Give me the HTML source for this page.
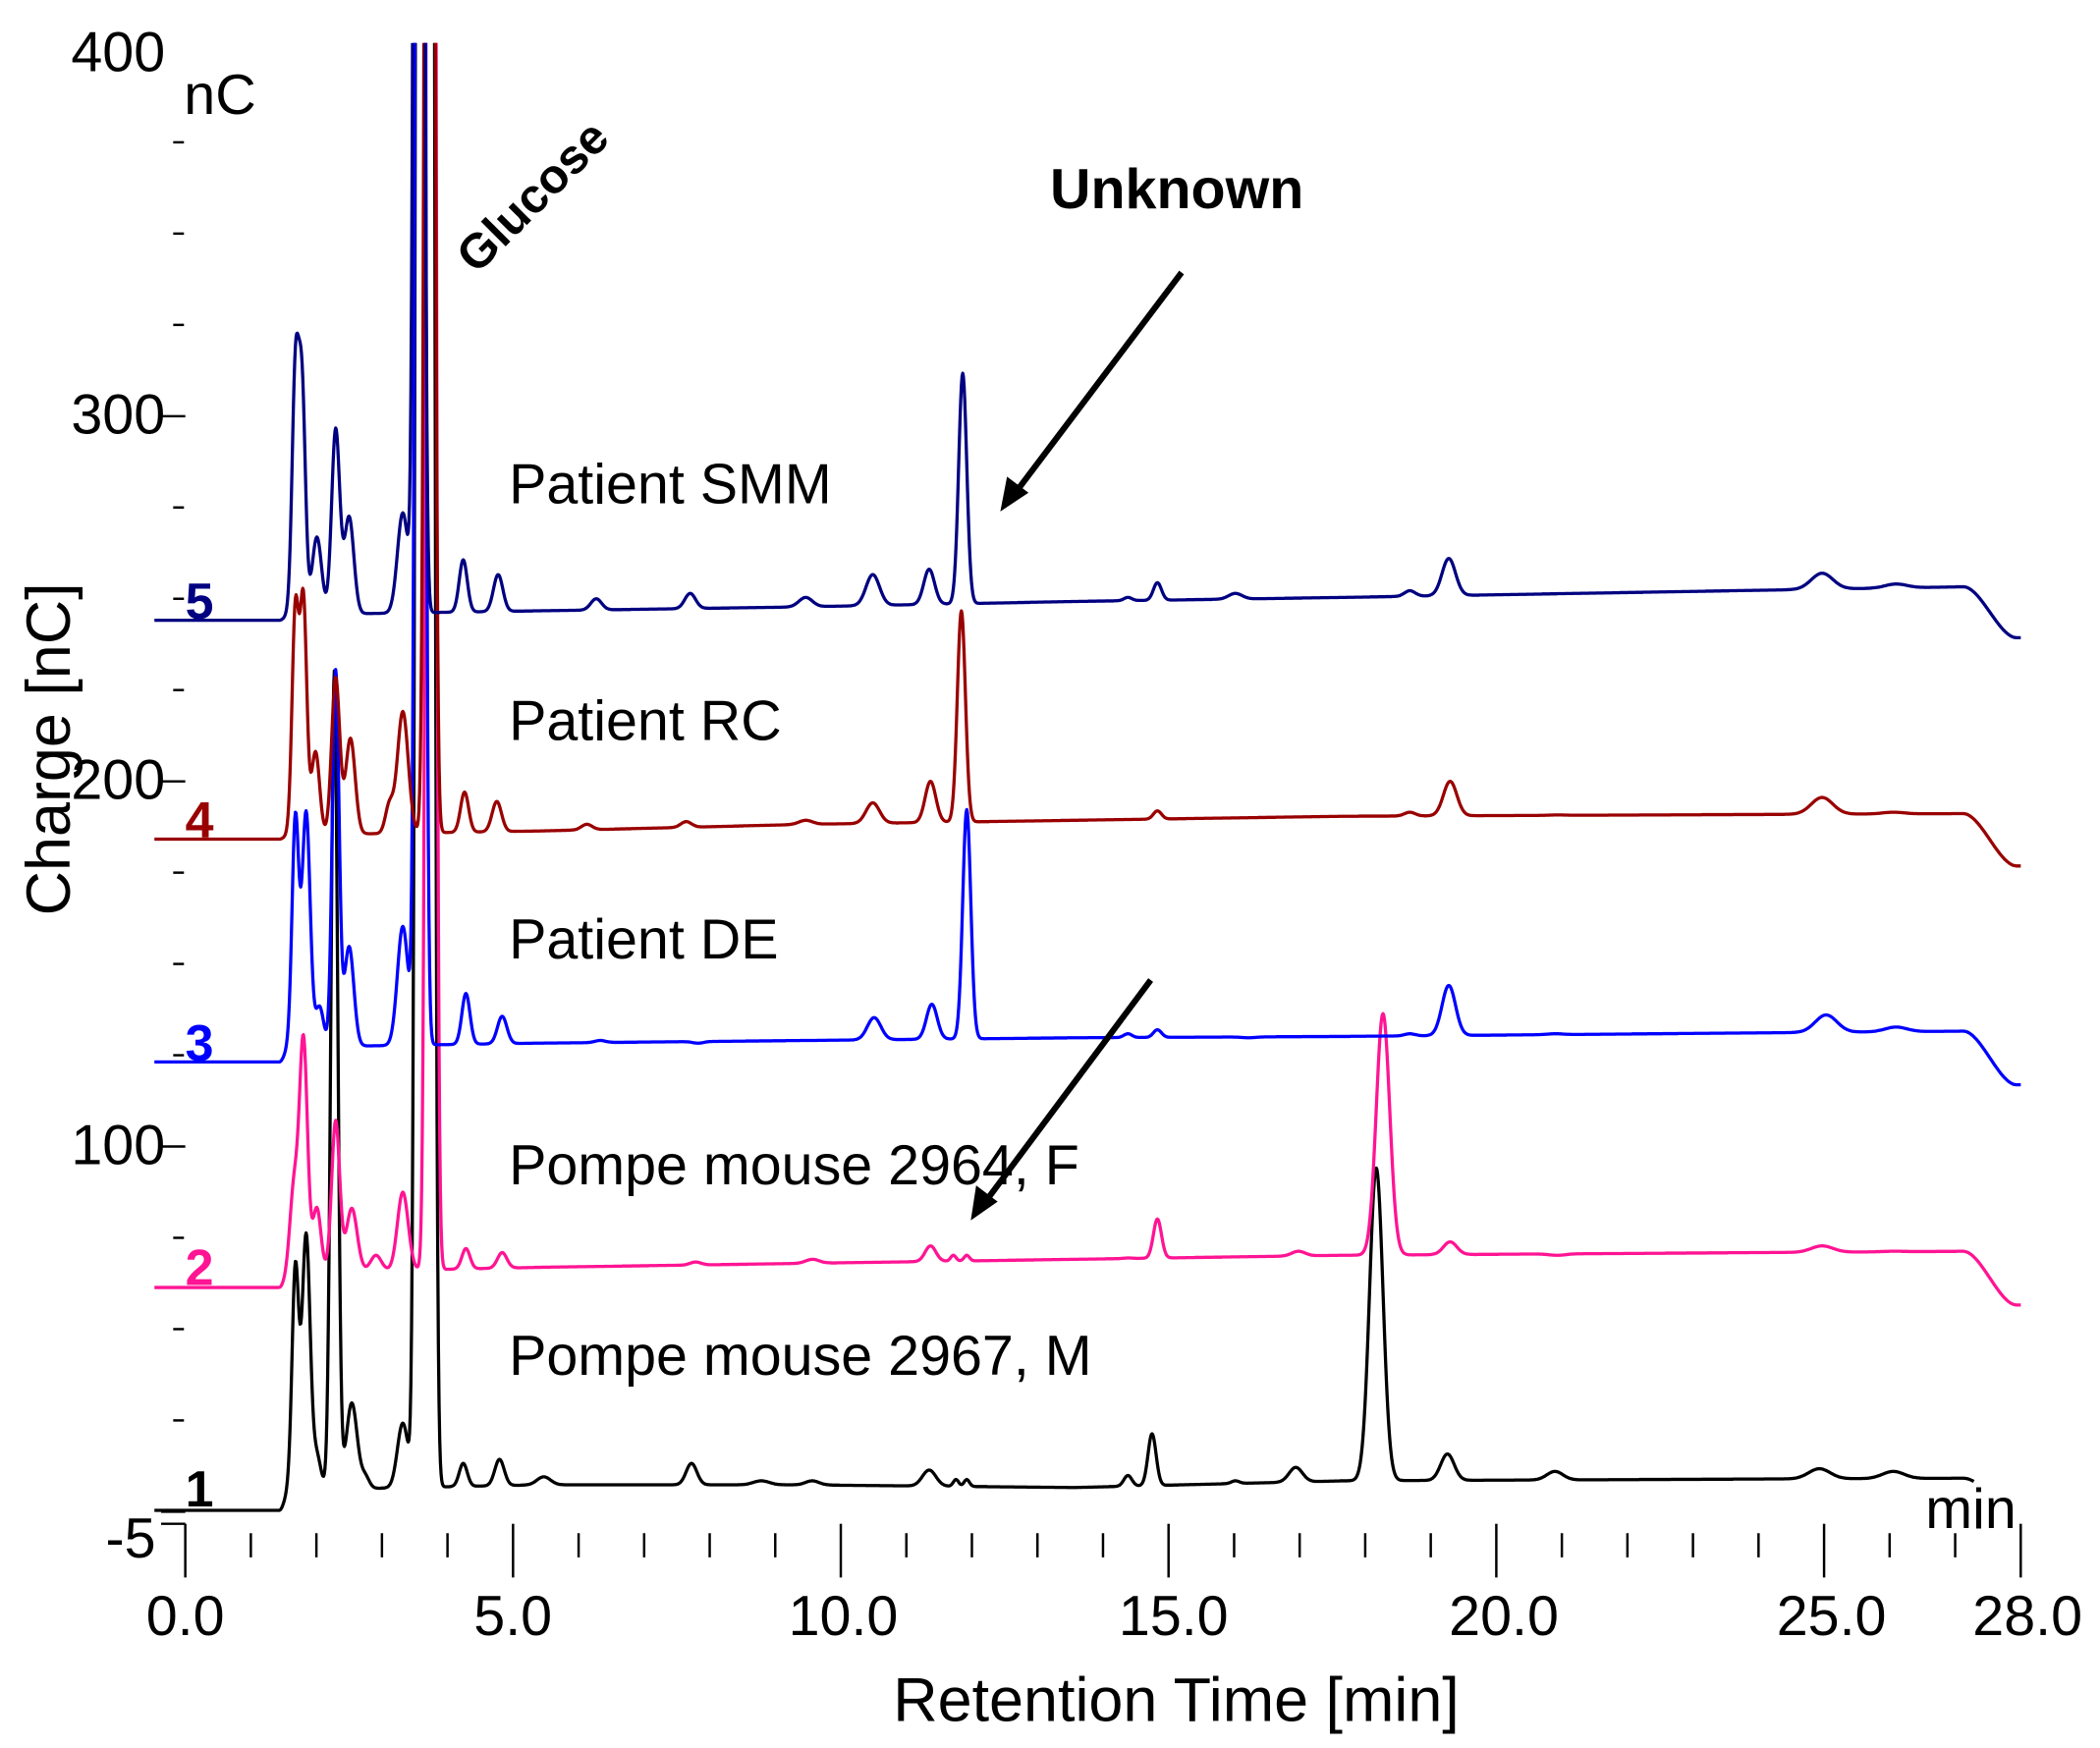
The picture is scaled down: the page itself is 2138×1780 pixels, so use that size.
<!DOCTYPE html>
<html><head><meta charset="utf-8"><style>
html,body{margin:0;padding:0;background:#fff;}
svg{display:block;}
text{font-family:"Liberation Sans",Arial,sans-serif;}
</style></head><body>
<svg id="s" width="2138" height="1780" viewBox="0 0 1564 1302" preserveAspectRatio="none" xmlns="http://www.w3.org/2000/svg">
<defs><clipPath id="c"><rect x="0" y="32" width="1564" height="1270"/></clipPath></defs>
<g id="axes" stroke="#000" stroke-width="1.8" fill="none"></g>
<g id="traces" clip-path="url(#c)" fill="none" stroke-width="2.4" stroke-linejoin="round"></g>
<g fill="#000" font-size="42">
<text x="123" y="53" text-anchor="end">400</text>
<text x="123" y="323" text-anchor="end">300</text>
<text x="123" y="595" text-anchor="end">200</text>
<text x="123" y="867" text-anchor="end">100</text>
<text x="116" y="1160" text-anchor="end">-5</text>
<text x="137" y="85">nC</text>
<text x="1434" y="1138">min</text>
<text x="138" y="1218" text-anchor="middle">0.0</text>
<text x="382" y="1218" text-anchor="middle">5.0</text>
<text x="628" y="1218" text-anchor="middle">10.0</text>
<text x="874" y="1218" text-anchor="middle">15.0</text>
<text x="1120" y="1218" text-anchor="middle">20.0</text>
<text x="1364" y="1218" text-anchor="middle">25.0</text>
<text x="1510" y="1218" text-anchor="middle">28.0</text>
<text x="876" y="1282" text-anchor="middle" font-size="46">Retention Time [min]</text>
<text transform="translate(52,558) rotate(-90)" text-anchor="middle" font-size="46">Charge [nC]</text>
<text x="379" y="375">Patient SMM</text>
<text x="379" y="551">Patient RC</text>
<text x="379" y="714">Patient DE</text>
<text x="379" y="882">Pompe mouse 2964, F</text>
<text x="379" y="1024">Pompe mouse 2967, M</text>
<text x="782" y="155" font-weight="bold">Unknown</text>
<text transform="translate(355,205) rotate(-45)" font-weight="bold" font-size="36">Glucose</text>
</g>
<g font-weight="bold" font-size="38">
<text x="138" y="461" fill="#000080">5</text>
<text x="138" y="624" fill="#990000">4</text>
<text x="138" y="790" fill="#0000ff">3</text>
<text x="138" y="957" fill="#ff1493">2</text>
<text x="138" y="1122" fill="#000">1</text>
</g>
<g stroke="#000" stroke-width="4.5">
<line x1="880" y1="203" x2="757" y2="366"/>
<line x1="857" y1="730" x2="734" y2="895"/>
</g>
<g fill="#000">
<polygon points="745,381 750,355 766,367"/>
<polygon points="723,909 727,883 743,895"/>
</g>
</svg>
<script>
var NS="http://www.w3.org/2000/svg";
var ax=document.getElementById("axes");
function L(x1,y1,x2,y2){var l=document.createElementNS(NS,"line");l.setAttribute("x1",x1);l.setAttribute("y1",y1);l.setAttribute("x2",x2);l.setAttribute("y2",y2);ax.appendChild(l);}
function X(t){return 138+48.82*t;}
function Y(v){return 38+(400-v)*2.72;}
for(var t=0;t<=28;t++){var x=X(t);if(t%5==0||t==28)L(x,1135,x,1175);else L(x,1142,x,1160);}
L(120,1135,138,1135);
for(var v=0;v<400;v+=25){var y=Y(v);if(v%100==0)L(120,y,138,y);else L(129,y,137,y);}
function sm(x,a,b){var u=(x-a)/(b-a);u=Math.max(0,Math.min(1,u));return u*u*(3-2*u);}
var T=[
{c:"#000",flat:1125,b:[[212,1110],[400,1106],[600,1106],[800,1108],[1000,1103],[1465,1101]],end:1125,
p:[[220,945,2.5],[228,920,3],[236,1085,3],[249,500,2.5],[262,1045,4],[272,1100,3],[300,1060,4],[313,-2000,2.5],[320,-2000,2.5],[345,1090,3],[372,1087,3.5],[405,1100,5],[515,1090,4],[567,1103,6],[605,1103,5],[692,1095,5],[712,1102,2],[720,1102,2],[840,1099,3],[858,1068,3],[920,1103,3],[965,1093,5],[1025,870,5],[1078,1083,5],[1158,1096,6],[1355,1094,8],[1410,1096,8]]},
{c:"#ff1493",flat:959,b:[[212,948],[400,944],[600,941],[800,938],[1000,935],[1465,932]],end:972,
p:[[219,885,3],[226,775,3],[236,900,3],[250,835,3],[262,900,4],[280,935,4],[300,888,4],[321,-2000,2.5],[347,930,3],[374,933,3.5],[518,940,4],[605,938,5],[693,928,4],[710,935,2],[720,935,2],[840,937,3],[862,908,3],[967,932,5],[1030,755,5],[1080,925,5],[1160,935,6],[1357,928,8],[1410,932,8]]},
{c:"#0000ff",flat:791,b:[[212,780],[400,777],[600,775],[800,773],[1000,772],[1465,768]],end:808,
p:[[220,610,2.5],[228,605,3],[238,750,3],[250,500,2.5],[260,705,3.5],[300,690,4],[313,-2000,2.5],[347,740,3],[374,757,3.5],[447,775,4],[520,777,4],[605,775,5],[651,758,5],[694,748,4],[720,603,3],[840,770,3],[862,767,3],[930,773,5],[1050,770,4],[1079,734,5],[1158,770,6],[1360,756,8],[1412,765,8]]},
{c:"#990000",flat:625,b:[[212,622],[400,619],[600,614],[800,611],[1000,608],[1465,606]],end:645,
p:[[220,455,2.5],[226,450,2.5],[235,560,3],[250,505,3],[261,550,3.5],[290,600,3],[300,530,4],[320,-2000,2.5],[346,590,3],[370,597,3.5],[437,614,4],[511,612,4],[600,611,5],[650,598,5],[693,582,4],[716,455,3],[862,604,3],[1050,605,4],[1080,582,5],[1160,607,6],[1357,594,8],[1410,605,8]]},
{c:"#000080",flat:462,b:[[212,458],[400,455],[600,452],[800,448],[1000,445],[1465,437]],end:475,
p:[[220,280,2.5],[225,295,2.5],[236,400,3.5],[250,320,3],[260,385,3.5],[300,382,4],[312,-2000,2.5],[345,417,3],[371,428,3.5],[444,446,4],[514,442,4],[600,445,5],[650,428,5],[692,424,4],[717,278,3],[840,445,3],[862,434,3],[920,442,5],[1050,440,4],[1079,416,5],[1357,427,8],[1412,435,8]]}
];
function base(tr,x){var b=tr.b;var y;
if(x<=b[0][0])y=b[0][1];else if(x>=b[b.length-1][0])y=b[b.length-1][1];else{for(var i=0;i<b.length-1;i++){if(x>=b[i][0]&&x<=b[i+1][0]){y=b[i][1]+(b[i+1][1]-b[i][1])*(x-b[i][0])/(b[i+1][0]-b[i][0]);break;}}}
var s=sm(x,208,216);y=tr.flat+(y-tr.flat)*s;
y+=(tr.end-b[b.length-1][1])*sm(x,1462,1502);return y;}
var g=document.getElementById("traces");
T.forEach(function(tr){var d="";
for(var x=115;x<=1505;x+=0.5){var bl=base(tr,x);var y=bl;
tr.p.forEach(function(p){var h=base(tr,p[0])-p[1];var z=(x-p[0])/p[2];if(Math.abs(z)<8)y-=h*Math.exp(-0.5*z*z);});
if(tr.c=="#000"&&x>1470)continue;
d+=(d?"L":"M")+x.toFixed(1)+","+y.toFixed(1);}
var p=document.createElementNS(NS,"path");p.setAttribute("d",d);p.setAttribute("stroke",tr.c);g.appendChild(p);});
</script>
</body></html>
